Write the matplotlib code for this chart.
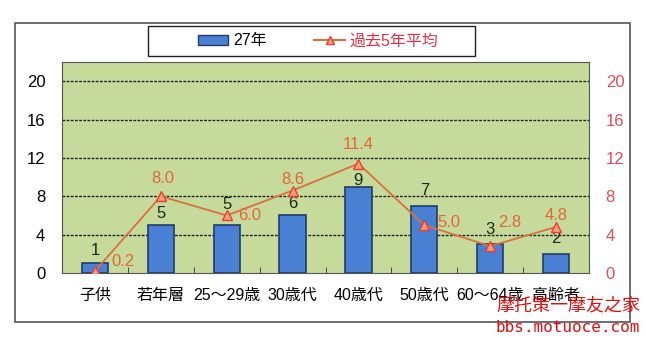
import matplotlib
matplotlib.use("Agg")
import matplotlib.pyplot as plt
from matplotlib.patches import Rectangle, Patch
from matplotlib.lines import Line2D
import numpy as np

plt.rcParams['font.family'] = ['Liberation Sans', 'Noto Sans CJK JP', 'DejaVu Sans']

# --- data ---
categories = ["子供", "若年層", "25〜29歳", "30歳代", "40歳代", "50歳代", "60〜64歳", "高齢者"]
counts_27 = [1, 5, 5, 6, 9, 7, 3, 2]
avg_5yr = [0.2, 8.0, 6.0, 8.6, 11.4, 5.0, 2.8, 4.8]
yticks = [0, 4, 8, 12, 16, 20]

W, H = 646, 338
fig = plt.figure(figsize=(W / 100, H / 100), dpi=100)

# outer frame
fig.patches.append(Rectangle((15 / W, 1 - 322 / H), 615 / W, 299 / H,
                             transform=fig.transFigure, fill=False,
                             edgecolor='#555555', linewidth=1.2))
# legend frame
fig.patches.append(Rectangle((148 / W, 1 - 56 / H), 327 / W, 30 / H,
                             transform=fig.transFigure, fill=False,
                             edgecolor='#222222', linewidth=1.0))

ax = fig.add_axes([62 / W, 1 - 273 / H, 527 / W, 211 / H])
ax.set_facecolor('#c6da9c')
x = np.arange(len(categories))

ax.bar(x, counts_27, width=0.4, color='#4a80d4', edgecolor='#223c66', linewidth=1.2, zorder=3)
ax.set_xlim(-0.5, len(categories) - 0.5)
ax.set_ylim(0, 22)
ax.set_yticks(yticks)
ax.tick_params(axis='y', length=0, labelsize=12, pad=12)
ax.set_xticks(x)
ax.set_xticklabels(categories, fontsize=11.5)
ax.tick_params(axis='x', length=0, pad=11)
ax.set_xticks(np.arange(0.5, len(categories) - 1, 1), minor=True)
ax.tick_params(axis='x', which='minor', direction='in', length=4, color='#333333')
for v in yticks[1:]:
    ax.axhline(v, color='#222222', linestyle=(0, (2, 1)), linewidth=1.0, zorder=1)
for s in ax.spines.values():
    s.set_color('#555555')

# bar labels: height above bar top
bar_dy = [1.35, 1.25, 2.1, 1.25, 0.65, 1.65, 1.55, 1.55]
for i, v in enumerate(counts_27):
    ax.text(i, v + bar_dy[i], str(v), ha='center', va='center', fontsize=12,
            color='#1a2a1a', zorder=5)

ax2 = ax.twinx()
ax2.set_ylim(0, 22)
ax2.set_yticks(yticks)
ax2.tick_params(axis='y', length=0, labelsize=12, labelcolor='#e04a5a', pad=12)
ax2.plot(x, avg_5yr, color='#d9703f', linewidth=1.3, marker='^', markersize=7,
         markerfacecolor='#ff9a80', markeredgecolor='#e8402a', zorder=4)

# line labels: offsets (dx, dy) from each point
offs = [(0.42, 1.0), (0.03, 1.85), (0.35, 0.0), (0, 1.15), (0, 2.0), (0.38, 0.3), (0.3, 2.5), (0, 1.15)]
for i, v in enumerate(avg_5yr):
    dx, dy = offs[i]
    ax2.text(i + dx, v + dy, f"{v:.1f}", ha='center', va='center', fontsize=12, color='#e0663c')

for s in ax2.spines.values():
    s.set_visible(False)

# legend
handles = [Patch(facecolor='#4a80d4', edgecolor='#223c66'),
           Line2D([0], [0], color='#d9703f', marker='^', markersize=6,
                  markerfacecolor='#ff9a80', markeredgecolor='#e8402a')]
leg = fig.legend(handles, ["27年", "過去5年平均"], loc='center', ncol=2,
                 bbox_to_anchor=(318 / W, 1 - 41 / H),
                 frameon=False, fontsize=11.5,
                 handlelength=1.9, handleheight=0.55, handletextpad=0.3,
                 columnspacing=3.0)
leg.get_texts()[1].set_color('#e03040')

# watermark
fig.text(640 / W, 1 - 305 / H, "摩托策一摩友之家", ha='right', va='center', fontsize=13,
         color='#e01010', family='Noto Sans CJK JP')
fig.text(640 / W, 1 - 328 / H, "bbs.motuoce.com", ha='right', va='center', fontsize=11.5,
         color='#e01010', family='DejaVu Sans Mono')

fig.savefig("out.png", dpi=100)
